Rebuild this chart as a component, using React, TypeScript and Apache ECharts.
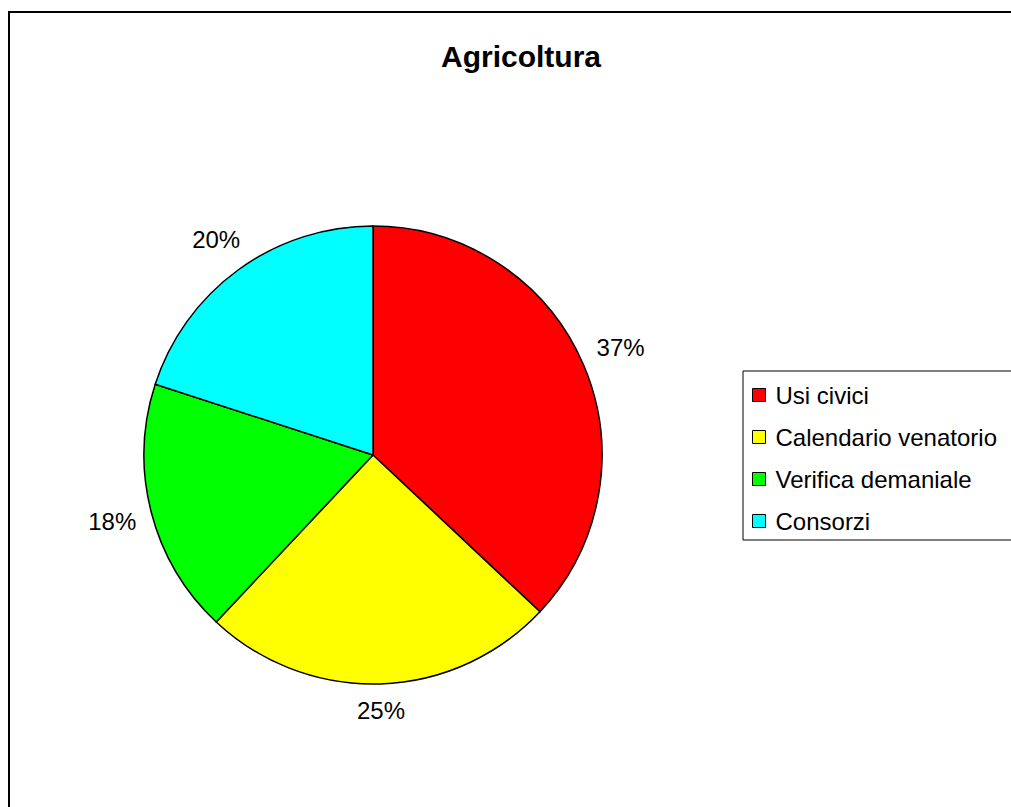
import React, { useEffect, useRef } from "react";
import * as echarts from "echarts";

const titleText = "Agricoltura";
const categories = ["Usi civici", "Calendario venatorio", "Verifica demaniale", "Consorzi"];
const shares = [37, 25, 18, 20];
const colors = ["#FF0000", "#FFFF00", "#00FF00", "#00FFFF"];

const FONT = "'Liberation Sans', Arial, sans-serif";
const CX = 373;
const CY = 455;
const R = 229;
const LABEL_GAP = 14;

export default function App() {
  const ref = useRef<HTMLDivElement>(null);

  useEffect(() => {
    if (!ref.current) return;
    const chart = echarts.init(ref.current, null, { renderer: "svg" });
    const total = shares.reduce((a, b) => a + b, 0);

    const option: any = {
      animation: false,
      title: {
        text: titleText,
        left: 516,
        top: 36,
        textAlign: "center",
        textStyle: { fontFamily: FONT, fontSize: 30, fontWeight: "bold", color: "#000" },
      },
      legend: {
        orient: "vertical",
        left: 743,
        top: 371,
        data: categories,
        icon: "rect",
        itemWidth: 13,
        itemHeight: 13,
        itemGap: 18,
        padding: [12, 60, 7, 9],
        borderColor: "#000",
        borderWidth: 1,
        backgroundColor: "#FFFFFF",
        textStyle: {
          fontFamily: FONT,
          fontSize: 24,
          color: "#000",
          lineHeight: 24,
          padding: [0, 0, 0, 5],
        },
        itemStyle: { borderColor: "#000", borderWidth: 1 },
      },
      series: [
        {
          type: "pie",
          center: [CX, CY],
          radius: R,
          startAngle: 90,
          clockwise: true,
          avoidLabelOverlap: false,
          data: categories.map((name, i) => ({
            name,
            value: shares[i],
            itemStyle: { color: colors[i] },
          })),
          itemStyle: { borderColor: "#000", borderWidth: 1.5 },
          label: {
            show: true,
            position: "outside",
            formatter: "{c}%",
            fontFamily: FONT,
            fontSize: 24,
            color: "#000",
          },
          labelLine: { show: false },
          emphasis: { disabled: true },
          // place each percentage just outside the rim, along its slice's mid-angle
          labelLayout: (p: any) => {
            const i = p.dataIndex;
            let before = 0;
            for (let k = 0; k < i; k++) before += shares[k];
            const mid = ((before + shares[i] / 2) / total) * Math.PI * 2;
            const ux = Math.sin(mid);
            const uy = -Math.cos(mid);
            const w = p.labelRect.width;
            const h = p.labelRect.height;
            const d = R + LABEL_GAP + (w / 2) * Math.abs(ux) + (h / 2) * Math.abs(uy);
            return { x: CX + ux * d, y: CY + uy * d, align: "center", verticalAlign: "middle" };
          },
        },
      ],
    };

    chart.setOption(option);
    return () => chart.dispose();
  }, []);

  return (
    <div
      style={{
        position: "absolute",
        left: 0,
        top: 0,
        width: 1011,
        height: 807,
        overflow: "hidden",
        background: "#FFFFFF",
      }}
    >
      {/* chart frame: its right and bottom edges lie beyond the page */}
      <div
        style={{
          position: "absolute",
          left: 8,
          top: 11,
          width: 1100,
          height: 900,
          border: "2px solid #000",
          boxSizing: "border-box",
        }}
      />
      <div
        ref={ref}
        style={{ position: "absolute", left: 0, top: 0, width: 1011, height: 807 }}
      />
    </div>
  );
}
